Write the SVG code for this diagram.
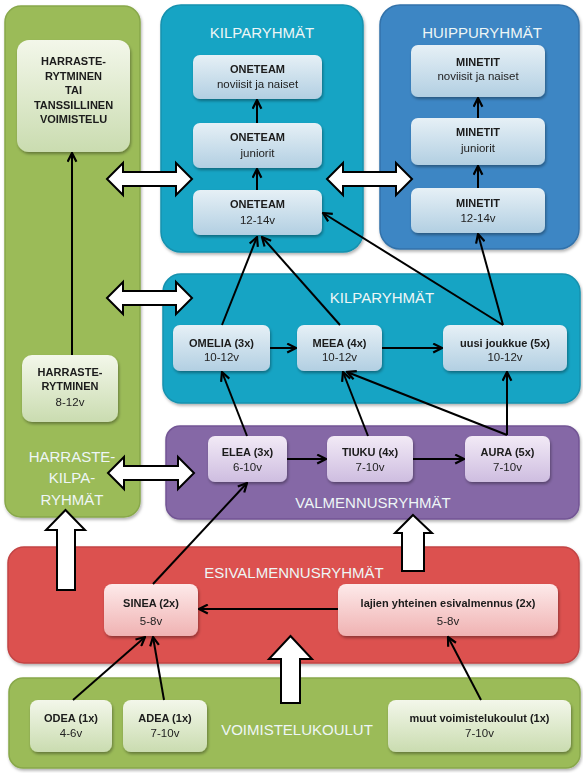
<svg xmlns="http://www.w3.org/2000/svg" width="583" height="773" viewBox="0 0 583 773">
<style>
.lbl{font-family:"Liberation Sans",Arial,sans-serif;font-size:15px;fill:#eef6f6;text-anchor:middle}
.b{font-family:"Liberation Sans",Arial,sans-serif;font-size:11px;font-weight:bold;fill:#1a1a1a;text-anchor:middle}
.n{font-family:"Liberation Sans",Arial,sans-serif;font-size:11.5px;fill:#222;text-anchor:middle}
.con line{stroke:#000;stroke-width:2;marker-end:url(#ah)}
.blk{fill:#fff;stroke:#000;stroke-width:2;stroke-linejoin:miter}
.pg{fill:#9bbb59;stroke:#88a84a}
.pt{fill:#15a4c4;stroke:#1391ae}
.pb{fill:#3d86c4;stroke:#3372aa}
.pp{fill:#8567a6;stroke:#735695}
.pr{fill:#dc5150;stroke:#c24444}
.panel{stroke-width:1.5;filter:url(#sh)}
.node{filter:url(#sh2)}
</style>
<defs>
<filter id="sh" x="-5%" y="-5%" width="110%" height="115%"><feDropShadow dx="1" dy="2" stdDeviation="1.5" flood-color="#000" flood-opacity="0.3"/></filter>
<filter id="sh2" x="-10%" y="-10%" width="120%" height="130%"><feDropShadow dx="1" dy="2" stdDeviation="1.5" flood-color="#000" flood-opacity="0.35"/></filter>
<linearGradient id="gG" x1="0" y1="0" x2="0" y2="1"><stop offset="0" stop-color="#f3f7ea"/><stop offset="1" stop-color="#cadcb0"/></linearGradient>
<linearGradient id="gT" x1="0" y1="0" x2="0" y2="1"><stop offset="0" stop-color="#e6f0f6"/><stop offset="1" stop-color="#b2cfe2"/></linearGradient>
<linearGradient id="gP" x1="0" y1="0" x2="0" y2="1"><stop offset="0" stop-color="#f2eaf6"/><stop offset="1" stop-color="#cebde0"/></linearGradient>
<linearGradient id="gR" x1="0" y1="0" x2="0" y2="1"><stop offset="0" stop-color="#fdeaea"/><stop offset="1" stop-color="#f0b2b2"/></linearGradient>
<marker id="ah" viewBox="0 0 10 10" refX="9" refY="5" markerWidth="5.5" markerHeight="5.5" orient="auto"><path d="M1,1 L9,5 L1,9" fill="none" stroke="#000" stroke-width="2"/></marker>
</defs>

<!-- panels -->
<g id="panel-harraste"><rect class="panel pg" x="5" y="6" width="135" height="511" rx="16"/>
<text class="lbl" x="72" y="462">HARRASTE-</text><text class="lbl" x="72" y="483">KILPA-</text><text class="lbl" x="72" y="505">RYHMÄT</text></g>
<g id="panel-kilpa-top"><rect class="panel pt" x="161" y="5" width="202" height="247" rx="20"/><text class="lbl" x="262" y="38">KILPARYHMÄT</text></g>
<g id="panel-huippu"><rect class="panel pb" x="380" y="5" width="199" height="244" rx="20"/><text class="lbl" x="482" y="38">HUIPPURYHMÄT</text></g>
<g id="panel-kilpa-mid"><rect class="panel pt" x="163" y="274" width="417" height="129" rx="18"/><text class="lbl" x="382" y="303">KILPARYHMÄT</text></g>
<g id="panel-valmennus"><rect class="panel pp" x="166" y="426" width="413" height="93" rx="14"/><text class="lbl" x="373" y="508">VALMENNUSRYHMÄT</text></g>
<g id="panel-esivalmennus"><rect class="panel pr" x="8" y="547" width="571" height="116" rx="16"/><text class="lbl" x="294" y="578">ESIVALMENNUSRYHMÄT</text></g>
<g id="panel-voimistelukoulut"><rect class="panel pg" x="9" y="678" width="571" height="90" rx="14"/><text class="lbl" x="297" y="735">VOIMISTELUKOULUT</text></g>

<!-- block arrows -->
<g id="block-arrows">
<path class="blk" d="M107,179 L123,163 L123,172 L176,172 L176,163 L192,179 L176,195 L176,186 L123,186 L123,195 Z"/>
<path class="blk" d="M107,298 L123,282 L123,291 L176,291 L176,282 L192,298 L176,314 L176,305 L123,305 L123,314 Z"/>
<path class="blk" d="M108,473 L124,457 L124,466 L178,466 L178,457 L194,473 L178,489 L178,480 L124,480 L124,489 Z"/>
<path class="blk" d="M327,179 L343,163 L343,172 L396,172 L396,163 L412,179 L396,195 L396,186 L343,186 L343,195 Z"/>
<path class="blk" d="M65.5,510 L85,530 L75,530 L75,590 L57,590 L57,530 L46,530 Z"/>
<path class="blk" d="M413,515 L432,533 L424,533 L424,571 L402,571 L402,533 L395,533 Z"/>
<path class="blk" d="M290.5,636 L312,659 L300,659 L300,703 L281,703 L281,659 L269,659 Z"/>
</g>

<!-- nodes -->
<g id="n-harraste-tanssi" class="node"><rect x="17" y="40" width="113" height="112" rx="12" fill="url(#gG)"/>
<text class="b" x="73.5" y="65">HARRASTE-</text><text class="b" x="73.5" y="79.5">RYTMINEN</text><text class="b" x="73.5" y="94">TAI</text><text class="b" x="73.5" y="108.5">TANSSILLINEN</text><text class="b" x="73.5" y="123">VOIMISTELU</text></g>
<g id="n-harraste-rytminen" class="node"><rect x="22" y="355" width="96" height="67" rx="10" fill="url(#gG)"/>
<text class="b" x="70" y="376">HARRASTE-</text><text class="b" x="70" y="389.5">RYTMINEN</text><text class="n" x="70" y="406">8-12v</text></g>

<g id="n-oneteam-noviisit" class="node"><rect x="193" y="55" width="129" height="44" rx="7" fill="url(#gT)"/>
<text class="b" x="257.5" y="73">ONETEAM</text><text class="n" x="257.5" y="88">noviisit ja naiset</text></g>
<g id="n-oneteam-juniorit" class="node"><rect x="193" y="123" width="129" height="45" rx="7" fill="url(#gT)"/>
<text class="b" x="257.5" y="141">ONETEAM</text><text class="n" x="257.5" y="157">juniorit</text></g>
<g id="n-oneteam-12" class="node"><rect x="193" y="190" width="129" height="45" rx="7" fill="url(#gT)"/>
<text class="b" x="257.5" y="208">ONETEAM</text><text class="n" x="257.5" y="224">12-14v</text></g>

<g id="n-minetit-noviisit" class="node"><rect x="411" y="45" width="134" height="52" rx="7" fill="url(#gT)"/>
<text class="b" x="478" y="66">MINETIT</text><text class="n" x="478" y="80">noviisit ja naiset</text></g>
<g id="n-minetit-juniorit" class="node"><rect x="411" y="118" width="134" height="47" rx="7" fill="url(#gT)"/>
<text class="b" x="478" y="136">MINETIT</text><text class="n" x="478" y="152">juniorit</text></g>
<g id="n-minetit-12" class="node"><rect x="411" y="188" width="134" height="45" rx="7" fill="url(#gT)"/>
<text class="b" x="478" y="207">MINETIT</text><text class="n" x="478" y="222">12-14v</text></g>

<g id="n-omelia" class="node"><rect x="173" y="325" width="97" height="46" rx="7" fill="url(#gT)"/>
<text class="b" x="221.5" y="347">OMELIA (3x)</text><text class="n" x="221.5" y="361">10-12v</text></g>
<g id="n-meea" class="node"><rect x="297" y="325" width="85" height="46" rx="7" fill="url(#gT)"/>
<text class="b" x="339.5" y="347">MEEA (4x)</text><text class="n" x="339.5" y="361">10-12v</text></g>
<g id="n-uusi" class="node"><rect x="443" y="325" width="124" height="46" rx="7" fill="url(#gT)"/>
<text class="b" x="505" y="347">uusi joukkue (5x)</text><text class="n" x="505" y="361">10-12v</text></g>

<g id="n-elea" class="node"><rect x="208" y="436" width="79" height="46" rx="7" fill="url(#gP)"/>
<text class="b" x="247.5" y="456">ELEA (3x)</text><text class="n" x="247.5" y="471">6-10v</text></g>
<g id="n-tiuku" class="node"><rect x="327" y="436" width="86" height="46" rx="7" fill="url(#gP)"/>
<text class="b" x="370" y="456">TIUKU (4x)</text><text class="n" x="370" y="471">7-10v</text></g>
<g id="n-aura" class="node"><rect x="465" y="436" width="85" height="46" rx="7" fill="url(#gP)"/>
<text class="b" x="507.5" y="456">AURA (5x)</text><text class="n" x="507.5" y="471">7-10v</text></g>

<g id="n-sinea" class="node"><rect x="104" y="584" width="94" height="52" rx="8" fill="url(#gR)"/>
<text class="b" x="151" y="607">SINEA (2x)</text><text class="n" x="151" y="625">5-8v</text></g>
<g id="n-lajien" class="node"><rect x="338" y="584" width="220" height="52" rx="8" fill="url(#gR)"/>
<text class="b" x="448" y="607">lajien yhteinen esivalmennus (2x)</text><text class="n" x="448" y="625">5-8v</text></g>

<g id="n-odea" class="node"><rect x="30" y="700" width="82" height="52" rx="8" fill="url(#gG)"/>
<text class="b" x="71" y="722">ODEA (1x)</text><text class="n" x="71" y="737">4-6v</text></g>
<g id="n-adea" class="node"><rect x="123" y="700" width="84" height="52" rx="8" fill="url(#gG)"/>
<text class="b" x="165" y="722">ADEA (1x)</text><text class="n" x="165" y="737">7-10v</text></g>
<g id="n-muut" class="node"><rect x="388" y="700" width="183" height="52" rx="8" fill="url(#gG)"/>
<text class="b" x="479.5" y="722">muut voimistelukoulut (1x)</text><text class="n" x="479.5" y="737">7-10v</text></g>

<!-- connectors -->
<g id="connectors" class="con">
<line x1="72" y1="355" x2="72" y2="153"/>
<line x1="257" y1="123" x2="257" y2="100"/>
<line x1="257" y1="190" x2="257" y2="169"/>
<line x1="478" y1="118" x2="478" y2="98"/>
<line x1="478" y1="188" x2="478" y2="166"/>
<line x1="222" y1="325" x2="257" y2="237"/>
<line x1="340" y1="325" x2="262" y2="237"/>
<line x1="503" y1="325" x2="323" y2="213"/>
<line x1="503" y1="325" x2="478" y2="234"/>
<line x1="270" y1="348" x2="296" y2="348"/>
<line x1="382" y1="348" x2="442" y2="348"/>
<line x1="247" y1="436" x2="222" y2="372"/>
<line x1="368" y1="436" x2="343" y2="372"/>
<line x1="507" y1="435" x2="347" y2="372"/>
<line x1="507" y1="435" x2="507" y2="372"/>
<line x1="287" y1="459" x2="326" y2="459"/>
<line x1="413" y1="459" x2="464" y2="459"/>
<line x1="153" y1="584" x2="247" y2="483"/>
<line x1="338" y1="609" x2="199" y2="609"/>
<line x1="73" y1="700" x2="145" y2="637"/>
<line x1="164" y1="700" x2="153" y2="637"/>
<line x1="481" y1="700" x2="448" y2="637"/>
</g>
</svg>
